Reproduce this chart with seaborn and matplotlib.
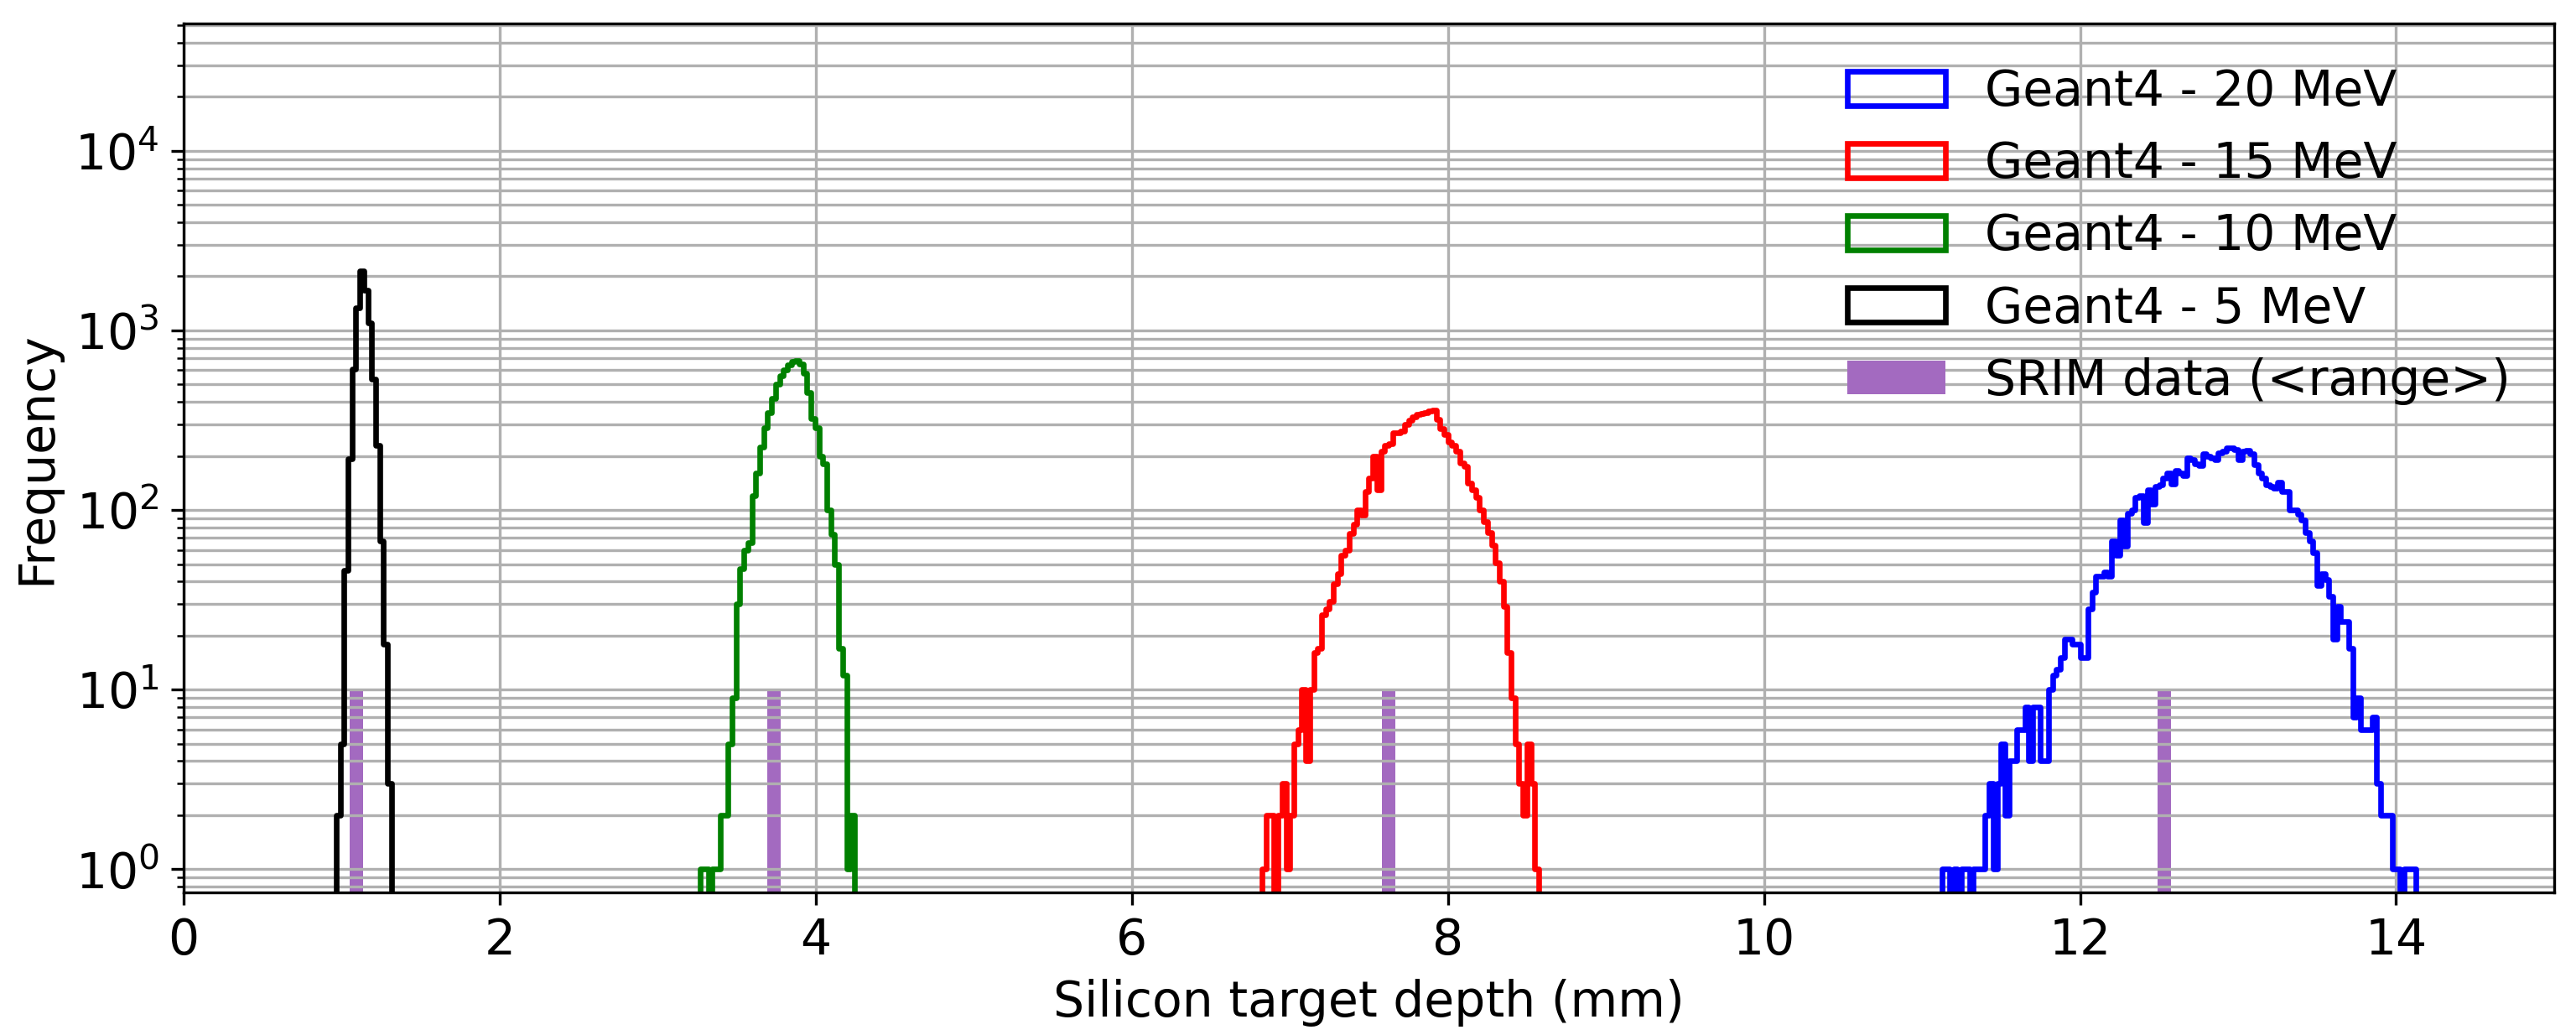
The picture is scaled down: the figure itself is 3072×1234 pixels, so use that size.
import numpy as np
import pandas as pd
import matplotlib
matplotlib.use("Agg")
import matplotlib.pyplot as plt
from matplotlib.patches import Patch
import seaborn as sns

# ---------------- data ----------------
bin_width = 0.025  # mm

labels = ["Geant4 - 20 MeV", "Geant4 - 15 MeV", "Geant4 - 10 MeV", "Geant4 - 5 MeV"]
colors = ["blue", "red", "green", "black"]
first_edges = [11.125, 6.825, 3.27, 0.965]  # left edge of the first bin (mm)

counts_20 = [1, 1, 0, 1, 0, 1, 1, 0, 1, 1, 1, 2, 3, 1, 3, 5, 2, 4, 4, 6, 6, 8, 4, 8, 8,
             4, 4, 10, 12, 13, 15, 19, 19, 18, 18, 15, 15, 28, 35, 43, 43, 45, 43, 67,
             56, 88, 63, 96, 100, 118, 120, 85, 130, 108, 135, 138, 150, 160, 140, 165,
             160, 155, 195, 190, 180, 176, 205, 200, 195, 190, 209, 212, 221, 222, 218,
             190, 213, 215, 205, 179, 160, 150, 138, 135, 133, 143, 127, 127, 100, 100,
             95, 88, 75, 67, 58, 38, 44, 41, 33, 19, 29, 24, 24, 17, 7, 9, 6, 6, 6, 7,
             3, 2, 2, 2, 1, 1, 0, 1, 1, 1]
counts_15 = [1, 2, 2, 0, 2, 3, 1, 2, 5, 6, 10, 4, 10, 16, 17, 26, 28, 31, 39, 44, 56,
             60, 74, 83, 100, 94, 127, 150, 200, 130, 212, 230, 235, 268, 270, 275, 300,
             315, 330, 340, 345, 350, 355, 360, 320, 285, 264, 240, 230, 212, 182, 175,
             141, 130, 118, 100, 86, 75, 64, 51, 40, 29, 16, 9, 5, 3, 2, 5, 3, 1]
counts_10 = [1, 1, 0, 1, 1, 2, 2, 5, 9, 30, 47, 60, 66, 120, 161, 223, 286, 350, 420,
             500, 560, 600, 640, 670, 680, 650, 580, 450, 324, 286, 200, 181, 100, 73,
             50, 17, 12, 1, 2]
counts_5 = [2, 5, 46, 192, 610, 1330, 2150, 1670, 1100, 535, 228, 67, 18, 3]
all_counts = [counts_20, counts_15, counts_10, counts_5]

srim_label = "SRIM data (<range>)"
srim_range = [12.534, 7.624, 3.735, 1.093]   # mm
srim_height = [10, 10, 10, 10]
srim_width = 0.085
srim_color = "#a36ac0"

# ---------------- figure ----------------
plt.rcParams["font.size"] = 14
fig, ax = plt.subplots(figsize=(10.24, 4.1140), dpi=300)
fig.subplots_adjust(left=0.0713, right=0.9915, bottom=0.1378, top=0.9769)
ax.set_yscale("log")

for counts, first, color in zip(all_counts, first_edges, colors):
    padded = np.concatenate([[0], counts, [0]]).astype(float)
    edges = first - bin_width + bin_width * np.arange(len(padded) + 1)
    centers = 0.5 * (edges[:-1] + edges[1:])
    df = pd.DataFrame({"depth": centers, "count": padded})
    sns.histplot(data=df, x="depth", weights="count", bins=edges.tolist(),
                 element="step", fill=False, color=color, linewidth=1.6, ax=ax)

ax.bar(srim_range, srim_height, width=srim_width, color=srim_color)

ax.set_xlim(0, 15)
ax.set_ylim(0.743, 5.1e4)
ax.grid(True, which="both")
ax.set_xlabel("Silicon target depth (mm)")
ax.set_ylabel("Frequency")

handles = [Patch(facecolor="none", edgecolor=c, linewidth=1.6) for c in colors]
handles.append(Patch(facecolor=srim_color, edgecolor="none"))
ax.legend(handles, labels + [srim_label], loc="upper right", frameon=False)

fig.savefig("out.png", dpi=300)
